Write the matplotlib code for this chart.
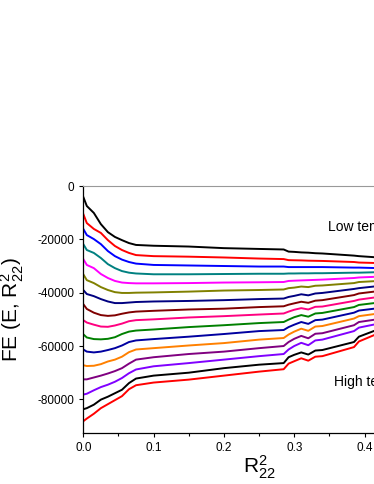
import matplotlib
matplotlib.use("Agg")
import matplotlib.pyplot as plt
from matplotlib.ticker import MultipleLocator

plt.rcParams['font.family'] = ['Liberation Sans', 'DejaVu Sans']
plt.rcParams['mathtext.fontset'] = 'custom'
plt.rcParams['mathtext.rm'] = 'Liberation Sans'
plt.rcParams['mathtext.it'] = 'Liberation Sans'
plt.rcParams['axes.unicode_minus'] = False

r2 = [0, 0.005, 0.015, 0.025, 0.035, 0.045, 0.055, 0.065, 0.075, 0.1,
      0.15, 0.2, 0.25, 0.285, 0.292, 0.30, 0.31, 0.32, 0.33, 0.34, 0.385, 0.392, 0.42]

# free energy curves, from low temperature (top) to high temperature (bottom)
fe_black1 = [-4100, -7500, -10100, -14300, -17300, -19100, -20300, -21400, -22100, -22400,
             -22700, -23300, -23600, -23800, -24600, -24700, -24900, -25000, -25200, -25300,
             -26100, -26300, -26800]
fe_red1 = [-10500, -13900, -16100, -17600, -20300, -22500, -24000, -25100, -25900, -26300,
           -26500, -26800, -27200, -27400, -27800, -27850, -27900, -28000, -28050, -28100,
           -28500, -28700, -28900]
fe_blue1 = [-16100, -18400, -19900, -21800, -24400, -26300, -27600, -28500, -29100, -29600,
            -29800, -30000, -30200, -30200, -30400, -30400, -30400, -30400, -30400, -30400,
            -30600, -30600, -30800]
fe_teal = [-21800, -24000, -25100, -27000, -29300, -30800, -31900, -32500, -32800, -33100,
           -33100, -33000, -32900, -32900, -32800, -32800, -32750, -32750, -32700, -32700,
           -32500, -32500, -32300]
fe_magenta = [-27400, -29600, -30800, -33000, -34500, -35600, -36200, -36400, -36500, -36500,
              -36400, -36200, -36100, -36000, -35600, -35500, -35400, -35300, -35200, -35100,
              -34500, -34300, -34000]
fe_olive = [-33100, -35300, -36400, -37900, -39000, -39800, -40100, -40100, -40000, -39900,
            -39600, -39200, -39000, -38800, -38300, -38100, -37700, -37900, -37400, -37300,
            -36400, -36000, -35600]
fe_navy = [-39000, -40500, -41300, -42400, -43300, -43900, -43900, -43700, -43500, -43300,
           -43100, -42800, -42400, -42200, -41600, -41200, -40600, -41000, -40300, -40100,
           -38600, -38300, -37500]
fe_wine = [-44300, -46100, -47500, -48400, -48700, -48500, -47900, -47400, -47100, -46800,
           -46300, -46000, -45400, -45100, -44500, -44000, -43400, -43800, -43000, -42800,
           -40900, -40300, -39400]
fe_pink = [-50300, -51200, -52000, -52700, -52800, -52300, -51600, -50700, -50300, -50000,
           -49300, -48800, -48200, -47800, -47100, -46400, -45800, -46300, -45300, -45200,
           -43100, -42600, -41600]
fe_green = [-55600, -56800, -57400, -57500, -57300, -56700, -55500, -54600, -54200, -53800,
            -52900, -52200, -51400, -51000, -50100, -49200, -48400, -49000, -47800, -47600,
            -45400, -44600, -43700]
fe_royal = [-61300, -62100, -62400, -62100, -61500, -60800, -59800, -58500, -57900, -57400,
            -56500, -55500, -54400, -54000, -52900, -52000, -51000, -51700, -50300, -50100,
            -47500, -46700, -45800]
fe_orange = [-67200, -67500, -67400, -66800, -65800, -65100, -64000, -62300, -61300, -60800,
             -59800, -58900, -57600, -57000, -55700, -54600, -53500, -54300, -52700, -52500,
             -49700, -48800, -47800]
fe_purple = [-72500, -72500, -71800, -71100, -70300, -69400, -68300, -66600, -65100, -64200,
             -63000, -62100, -60800, -60000, -58500, -57300, -56200, -57100, -55400, -55200,
             -52200, -51000, -49900]
fe_violet = [-78200, -77900, -76600, -75400, -74500, -73400, -72000, -70200, -68800, -67600,
             -66400, -65100, -63800, -63000, -61300, -60000, -58800, -59700, -57900, -57600,
             -54400, -53100, -51600]
fe_black2 = [-83700, -83300, -82000, -80100, -79000, -77700, -76400, -73900, -72200, -71100,
             -70000, -68300, -67000, -66400, -64200, -63300, -62400, -63200, -61700, -61500,
             -58500, -56500, -53700]
fe_red2 = [-88200, -87200, -85400, -83300, -81800, -80300, -78800, -76200, -74700, -73700,
           -72600, -71100, -69600, -68700, -66600, -65700, -64600, -65500, -64000, -63800,
           -60400, -58300, -55200]

curves = [fe_black1, fe_red1, fe_blue1, fe_teal, fe_magenta, fe_olive, fe_navy, fe_wine,
          fe_pink, fe_green, fe_royal, fe_orange, fe_purple, fe_violet, fe_black2, fe_red2]
colors = ['#000000', '#ff0000', '#0000ff', '#008080', '#ff00ff', '#808000', '#000080', '#800000',
          '#ff0080', '#008000', '#0000a0', '#ff8000', '#800080', '#8000ff', '#000000', '#ff0000']

fig = plt.figure(figsize=(3.74, 4.84), dpi=100)
ax = fig.add_axes([0.2227, 0.106, 0.94, 0.5097])

for fe, c in zip(curves, colors):
    ax.plot(r2, fe, color=c, lw=1.4)

ax.set_xlim(0, 0.5)
ax.set_ylim(-92500, 0)
ax.xaxis.set_major_locator(MultipleLocator(0.1))
ax.xaxis.set_minor_locator(MultipleLocator(0.05))
ax.yaxis.set_major_locator(MultipleLocator(20000))
ax.tick_params(which='both', direction='out', labelsize=8.5, width=0.8)
ax.tick_params(which='major', length=3)
ax.tick_params(which='minor', length=1.8)

for s in ['left', 'bottom']:
    ax.spines[s].set_linewidth(0.9)
ax.spines['top'].set_color('#999999')
ax.spines['top'].set_linewidth(0.8)
ax.spines['right'].set_visible(False)

ax.set_xlabel('R$^2_{22}$', fontsize=15, labelpad=0)
ax.set_ylabel('FE (E, R$^2_{22}$)', fontsize=15, labelpad=8)

# labels run past the right edge of the figure, as in the original
ax.text(0.3485, -15500, 'Low temperature', fontsize=10, va='center', clip_on=False)
ax.text(0.357, -73400, 'High temperature', fontsize=10, va='center', clip_on=False)

fig.savefig('out.png', dpi=100)
